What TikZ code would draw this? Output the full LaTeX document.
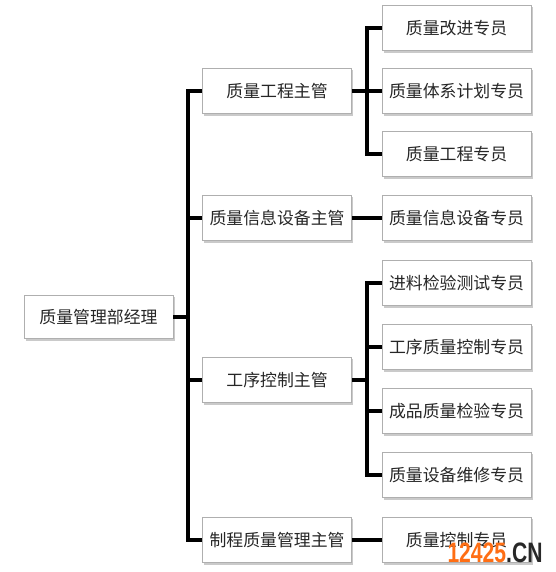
\documentclass[tikz,border=0pt]{standalone}
\usepackage{fontspec}
\usepackage{xcolor}
\usetikzlibrary{shapes,positioning,shadows}
\setmainfont{Noto Sans CJK SC}
\setsansfont{Liberation Sans}
\definecolor{boxgray}{RGB}{175,175,175}
\definecolor{markorange}{RGB}{255,110,20}
\definecolor{markdark}{RGB}{40,40,40}

\tikzset{
    orgbox/.style={draw=boxgray, rectangle, line width=0.5pt, fill=white,
        minimum width=3.72cm, minimum height=1.13cm, inner sep=1pt,
        font=\fontsize{12}{14}\selectfont, text=black!85,
        drop shadow={shadow xshift=1.2pt, shadow yshift=-1.4pt, opacity=0.35, fill=black!60}},
    orgline/.style={line width=2.3pt, black}
}

\begin{document}
\begin{tikzpicture}[x=0.025cm, y=-0.025cm]
    \useasboundingbox (0,0) rectangle (555,572);

    % 经理
    \node[orgbox, minimum height=1.08cm] (mgr) at (98.5,317) {质量管理部经理};

    % 主管
    \node[orgbox] (eng)  at (277,91)  {质量工程主管};
    \node[orgbox] (info) at (277,218) {质量信息设备主管};
    \node[orgbox] (proc) at (277,380) {工序控制主管};
    \node[orgbox] (mfg)  at (277,540) {制程质量管理主管};

    % 专员
    \node[orgbox] (imp)  at (456.5,28)  {质量改进专员};
    \node[orgbox] (sys)  at (456.5,91)  {质量体系计划专员};
    \node[orgbox] (qeng) at (456.5,154) {质量工程专员};
    \node[orgbox] (qinf) at (456.5,218) {质量信息设备专员};
    \node[orgbox] (inc)  at (456.5,283) {进料检验测试专员};
    \node[orgbox] (pqc)  at (456.5,347) {工序质量控制专员};
    \node[orgbox] (fin)  at (456.5,411) {成品质量检验专员};
    \node[orgbox] (mnt)  at (456.5,475) {质量设备维修专员};
    \node[orgbox] (qctl) at (456.5,540) {质量控制专员};

    \coordinate (trunk) at (188,317);
    \coordinate (engbr) at (367,91);
    \coordinate (procbr) at (367,380);

    \draw[orgline] (mgr.east) -- (trunk);
    \foreach \n in {eng,info,proc,mfg}
        \draw[orgline] (trunk) |- (\n.west);

    \draw[orgline] (eng.east) -- (engbr);
    \foreach \n in {imp,sys,qeng}
        \draw[orgline] (engbr) |- (\n.west);

    \draw[orgline] (info.east) -- (qinf.west);

    \draw[orgline] (proc.east) -- (procbr);
    \foreach \n in {inc,pqc,fin,mnt}
        \draw[orgline] (procbr) |- (\n.west);

    \draw[orgline] (mfg.east) -- (qctl.west);

    % 水印
    \node[font=\sffamily\bfseries\fontsize{20}{20}\selectfont, xscale=0.75, inner sep=0pt]
        (mark) at (495,553) {\textcolor{markorange}{12425}\textcolor{markdark}{.CN}};
\end{tikzpicture}
\end{document}
